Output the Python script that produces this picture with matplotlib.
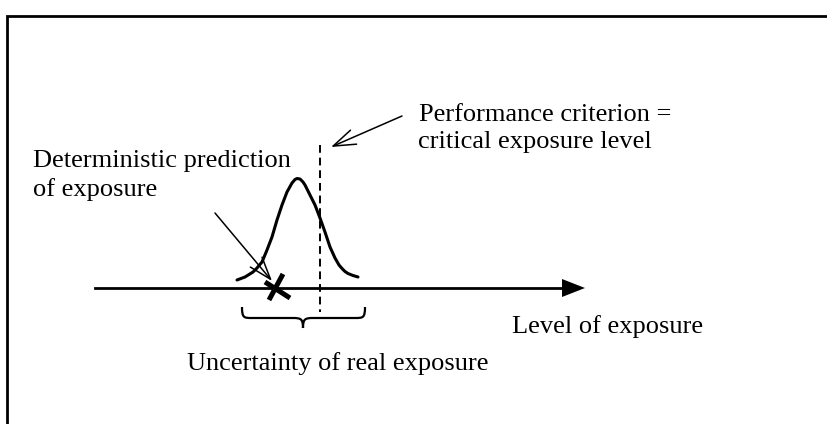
import matplotlib.pyplot as plt
from matplotlib.path import Path
from matplotlib.patches import PathPatch

# Schematic drawn in pixel coordinates of the 827x424 picture (y grows downwards)
curva_x = [237, 241, 245, 249, 253, 257, 262, 267, 272, 277, 282, 287, 292, 295, 297, 300,
           303, 305, 310, 315, 320, 325, 330, 335, 339, 342, 345, 348, 353, 358]
curva_y = [280, 278.5, 277, 274.5, 272, 268, 262, 250, 237, 220, 205, 192, 183, 179.5, 178.5, 179,
           182, 185, 195, 205, 218, 232, 247, 258, 265, 268.5, 271.5, 273.5, 275.5, 277]

eixo = (95, 585, 288)            # x inicio, x ponta, y
criterio_x = 320
criterio_y = (145, 312)
previsao = (277, 289)
chave = (242, 365, 307, 328)     # x esq, x dir, y topo, y ponta

textos = ['Performance criterion =', 'critical exposure level',
          'Deterministic prediction', 'of exposure',
          'Level of exposure', 'Uncertainty of real exposure']
textos_pos = [(419, 121), (418, 148), (33, 167), (33, 196), (512, 333), (187, 370)]

plt.rcParams['font.family'] = ['Liberation Serif', 'DejaVu Serif']

fig = plt.figure(figsize=(8.27, 4.24), dpi=100)
ax = fig.add_axes([0, 0, 1, 1])
ax.set_xlim(0, 827)
ax.set_ylim(424, 0)
ax.axis('off')

# moldura (so lados esquerdo e de cima aparecem)
ax.plot([7, 7, 830], [430, 16, 16], color='black', lw=2, solid_joinstyle='miter')

# eixo horizontal com seta
ax.plot([eixo[0], eixo[1] - 22], [eixo[2], eixo[2]], color='black', lw=2)
ax.fill([eixo[1] - 23, eixo[1], eixo[1] - 23],
        [eixo[2] - 9, eixo[2], eixo[2] + 9], color='black', lw=0)

# curva de incerteza
ax.plot(curva_x, curva_y, color='black', lw=2.2, solid_capstyle='round', solid_joinstyle='round')

# linha tracejada do criterio
ax.plot([criterio_x, criterio_x], criterio_y, color='black', lw=1.4, ls=(0, (4, 2.5)))

# X da previsao deterministica
px, py = previsao
ax.plot([px - 12, px + 13], [py - 7, py + 9], color='black', lw=3.6, solid_capstyle='butt')
ax.plot([px - 8, px + 6], [py + 11, py - 15], color='black', lw=3.6, solid_capstyle='butt')

# setas finas
seta = dict(arrowstyle='->,head_length=16,head_width=5.5', mutation_scale=1,
            color='black', lw=1.1, shrinkA=0, shrinkB=0)
ax.annotate('', xy=(272, 281), xytext=(215, 213), arrowprops=seta)
ax.annotate('', xy=(331, 147), xytext=(402, 116), arrowprops=seta)

# chave
xl, xr, yt, yp = chave
xm = (xl + xr) / 2 - 0.5
yb = yt + 11
verts = [(xl, yt), (xl, yb), (xl + 2, yb), (xl + 10, yb),
         (xm - 10, yb), (xm - 2, yb), (xm, yb + 1), (xm, yp),
         (xm, yb + 1), (xm + 2, yb), (xm + 10, yb),
         (xr - 10, yb), (xr - 2, yb), (xr, yb), (xr, yt)]
codes = [Path.MOVETO, Path.CURVE4, Path.CURVE4, Path.CURVE4,
         Path.LINETO, Path.CURVE4, Path.CURVE4, Path.CURVE4,
         Path.CURVE4, Path.CURVE4, Path.CURVE4,
         Path.LINETO, Path.CURVE4, Path.CURVE4, Path.CURVE4]
ax.add_patch(PathPatch(Path(verts, codes), fill=False, color='black', lw=1.6))

for t, (x, y) in zip(textos, textos_pos):
    ax.text(x, y, t, fontsize=19, ha='left', va='baseline', color='black')

fig.savefig('out.png', dpi=100)
